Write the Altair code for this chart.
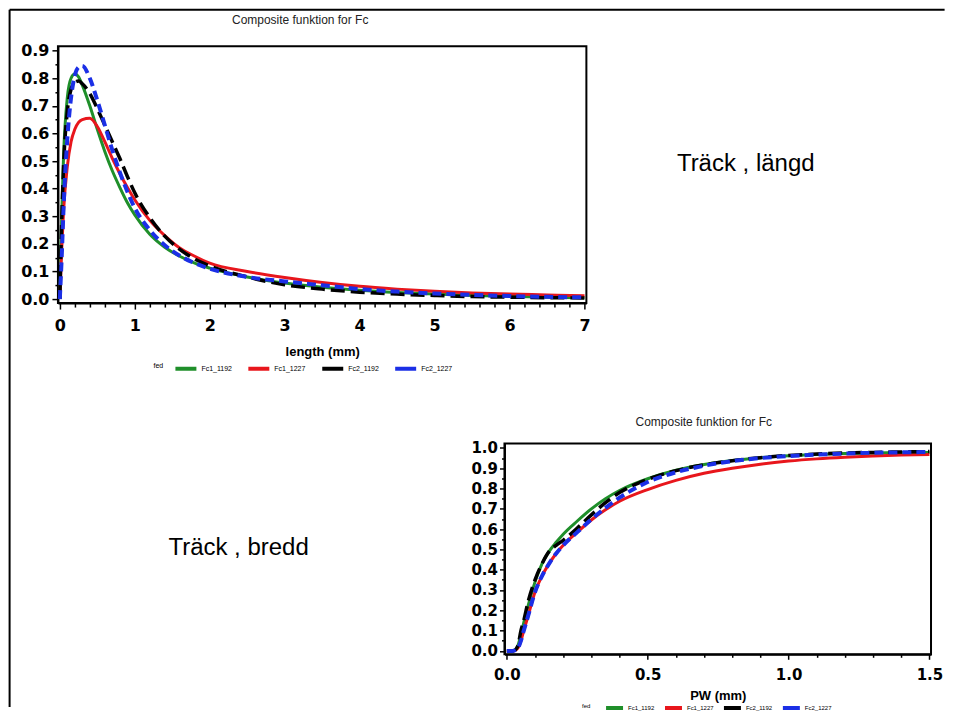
import altair as alt
import pandas as pd

SERIES = ["Fc1_1192", "Fc1_1227", "Fc2_1192", "Fc2_1227"]
COLORS = ["#1f8f2a", "#e8161c", "#000000", "#1b2fe6"]
DASHES = [[1, 0], [1, 0], [14, 6], [9, 5]]
WIDTHS = [3, 3, 3.5, 4]

# ---- top chart: length (mm) ----
len_x = [0, 0.025, 0.05, 0.1, 0.15, 0.2, 0.25, 0.3, 0.4, 0.5, 0.6, 0.7, 0.8, 0.9, 1.0,
         1.2, 1.4, 1.6, 1.8, 2.0, 2.5, 3, 3.5, 4, 4.5, 5, 5.5, 6, 6.5, 7]
len_fc1_1192 = [0, 0.30, 0.52, 0.73, 0.80, 0.815, 0.805, 0.775, 0.70, 0.615, 0.535, 0.465, 0.405, 0.35, 0.305,
                0.235, 0.188, 0.155, 0.13, 0.112, 0.08, 0.058, 0.043, 0.032, 0.024, 0.018, 0.013, 0.010, 0.007, 0.005]
len_fc1_1227 = [0, 0.18, 0.32, 0.48, 0.57, 0.615, 0.64, 0.65, 0.655, 0.625, 0.57, 0.51, 0.455, 0.405, 0.36,
                0.285, 0.23, 0.185, 0.155, 0.13, 0.10, 0.078, 0.06, 0.046, 0.036, 0.028, 0.022, 0.018, 0.015, 0.012]
len_fc2_1192 = [0, 0.28, 0.48, 0.68, 0.76, 0.785, 0.79, 0.78, 0.745, 0.69, 0.63, 0.57, 0.51, 0.445, 0.385,
                0.295, 0.228, 0.18, 0.145, 0.12, 0.08, 0.052, 0.036, 0.025, 0.018, 0.013, 0.009, 0.007, 0.005, 0.004]
len_fc2_1227 = [0, 0.15, 0.33, 0.58, 0.73, 0.81, 0.84, 0.845, 0.80, 0.72, 0.63, 0.54, 0.46, 0.39, 0.33,
                0.25, 0.195, 0.157, 0.13, 0.11, 0.08, 0.064, 0.05, 0.036, 0.027, 0.02, 0.015, 0.011, 0.008, 0.006]

# ---- bottom chart: PW (mm) ----
pw_x = [0, 0.02, 0.03, 0.04, 0.05, 0.06, 0.075, 0.1, 0.125, 0.15, 0.175, 0.2, 0.25, 0.3, 0.35, 0.4,
        0.5, 0.6, 0.7, 0.8, 0.9, 1.0, 1.1, 1.2, 1.3, 1.4, 1.5]
pw_fc1_1192 = [0, 0, 0.005, 0.03, 0.08, 0.14, 0.22, 0.34, 0.43, 0.49, 0.535, 0.575, 0.64, 0.70, 0.75, 0.79,
               0.848, 0.89, 0.918, 0.938, 0.952, 0.962, 0.968, 0.972, 0.975, 0.977, 0.978]
pw_fc1_1227 = [0, 0, 0.003, 0.015, 0.05, 0.10, 0.17, 0.29, 0.37, 0.43, 0.48, 0.52, 0.585, 0.645, 0.695, 0.737,
               0.795, 0.84, 0.875, 0.90, 0.92, 0.935, 0.946, 0.954, 0.96, 0.965, 0.968]
pw_fc2_1192 = [0, 0, 0.005, 0.03, 0.10, 0.15, 0.24, 0.35, 0.43, 0.49, 0.52, 0.545, 0.605, 0.67, 0.73, 0.78,
               0.845, 0.888, 0.917, 0.937, 0.952, 0.963, 0.970, 0.975, 0.978, 0.98, 0.982]
pw_fc2_1227 = [0, 0, 0.003, 0.015, 0.05, 0.10, 0.17, 0.29, 0.37, 0.43, 0.48, 0.52, 0.585, 0.648, 0.705, 0.755,
               0.832, 0.88, 0.912, 0.935, 0.95, 0.96, 0.967, 0.972, 0.976, 0.978, 0.98]

# tick values (major + minor)
top_x_ticks = [round(i * 0.2, 1) for i in range(36)]
top_y_ticks = [round(i * 0.05, 2) for i in range(19)]
bot_x_ticks = [round(i * 0.1, 1) for i in range(16)]
bot_y_ticks = [round(i * 0.05, 2) for i in range(21)]

TITLE_TEXT = "Composite funktion for Fc"
LABEL_LEN = "Träck , längd"
LABEL_PW = "Träck , bredd"

LABEL_FONT = "DejaVu Sans"
TEXT_FONT = "Liberation Sans"


def long_df(xname, xs, ys_list):
    rows = []
    for s, ys in zip(SERIES, ys_list):
        for x, y in zip(xs, ys):
            rows.append({xname: x, "value": y, "fed": s})
    return pd.DataFrame(rows)


len_df = long_df("length", len_x, [len_fc1_1192, len_fc1_1227, len_fc2_1192, len_fc2_1227])
pw_df = long_df("PW", pw_x, [pw_fc1_1192, pw_fc1_1227, pw_fc2_1192, pw_fc2_1227])


def make_axis(values, major_test, fmt, label_size, tick_major, tick_minor, label_pad,
              title=None, title_pad=0, title_size=13):
    kw = dict(
        values=values,
        labelExpr=f"({major_test}) ? format(datum.value, '{fmt}') : ''",
        tickSize={"condition": {"test": major_test, "value": tick_major}, "value": tick_minor},
        labelFont=LABEL_FONT, labelFontSize=label_size, labelFontWeight="bold", labelColor="#000",
        labelPadding=label_pad, labelFlush=False, labelOverlap=False,
        domainColor="#000", domainWidth=2, tickColor="#000", tickWidth=1.5, grid=False,
    )
    if title:
        kw.update(title=title, titleFont=TEXT_FONT, titleFontSize=title_size, titleFontWeight="bold",
                  titleColor="#000", titlePadding=title_pad)
    else:
        kw["title"] = None
    return alt.Axis(**kw)


def make_legend(x, y, size, sym_len, col_pad, title_pad):
    return alt.Legend(
        orient="none", legendX=x, legendY=y, direction="horizontal", title="fed",
        titleOrient="left", titleAnchor="middle", titleBaseline="middle",
        titleFont=TEXT_FONT, titleFontSize=size, titleFontWeight="normal",
        titleColor="#000", titlePadding=title_pad,
        labelFont=TEXT_FONT, labelFontSize=size, labelColor="#000",
        symbolType="stroke", symbolSize=sym_len * sym_len, symbolStrokeWidth=4,
        symbolDash=[1, 0], symbolDashOffset=0,
        labelOffset=3, columnPadding=col_pad, padding=0,
    )


def curve_layers(df, xenc, yenc, legend):
    """Solid series carry the colour legend; dashed series are drawn on top."""
    solid = alt.Chart(df).transform_filter(
        alt.FieldOneOfPredicate(field="fed", oneOf=SERIES[:2])
    ).mark_line(interpolate="monotone", strokeWidth=WIDTHS[0]).encode(
        x=xenc, y=yenc,
        color=alt.Color("fed:N", scale=alt.Scale(domain=SERIES, range=COLORS), legend=legend),
        detail="fed:N",
    )
    layers = [solid]
    for i in (2, 3):
        layers.append(
            alt.Chart(df).transform_filter(alt.datum.fed == SERIES[i]).mark_line(
                interpolate="monotone", color=COLORS[i], strokeDash=DASHES[i], strokeWidth=WIDTHS[i]
            ).encode(x=xenc, y=yenc)
        )
    return layers


def title_params(dx, offset):
    return alt.TitleParams(TITLE_TEXT, frame="group", anchor="middle", dx=dx, offset=offset,
                           baseline="alphabetic", font=TEXT_FONT, fontSize=12, fontWeight="normal",
                           color="#222")


# ---------- top chart ----------
top_x = alt.X("length:Q", scale=alt.Scale(domain=[-0.025, 7.025], nice=False, zero=False),
              axis=make_axis(top_x_ticks, "datum.value % 1 === 0", ".0f", 16, 6, 4, 8,
                             title="length (mm)", title_pad=12))
top_y = alt.Y("value:Q", scale=alt.Scale(domain=[-0.0145, 0.9156], nice=False, zero=False),
              axis=make_axis(top_y_ticks, "round(datum.value * 100) % 10 === 0", ".1f", 16, 6, 3, 3))

label_top = alt.Chart(pd.DataFrame({"t": [LABEL_LEN]})).mark_text(
    font=TEXT_FONT, fontSize=24, align="left", baseline="alphabetic", color="#000"
).encode(text="t:N", x=alt.value(619.6), y=alt.value(124.5))

top = alt.layer(*curve_layers(len_df, top_x, top_y, make_legend(95.6, 310, 7, 21, 8.0, 10)),
                label_top).properties(
    width=529, height=257,
    title=title_params(-22, 7),
    view=alt.ViewBackground(stroke="#000", strokeWidth=2),
)

# ---------- bottom chart ----------
bot_x = alt.X("PW:Q", scale=alt.Scale(domain=[-0.0085, 1.5057], nice=False, zero=False),
              axis=make_axis(bot_x_ticks, "round(datum.value * 10) % 5 === 0", ".1f", 15, 5, 3, 8,
                             title="PW (mm)", title_pad=7))
bot_y = alt.Y("value:Q", scale=alt.Scale(domain=[-0.0167, 1.0217], nice=False, zero=False),
              axis=make_axis(bot_y_ticks, "round(datum.value * 100) % 10 === 0", ".1f", 15, 5, 3, 2))

bottom = alt.layer(*curve_layers(pw_df, bot_x, bot_y, make_legend(77.7, 254, 6, 17, 2, 13))).properties(
    width=427, height=211,
    title=title_params(-14, 3),
    view=alt.ViewBackground(stroke="#000", strokeWidth=2),
)

# ---------- left cell of the second row: label + page frame ----------
one = pd.DataFrame({"k": [0]})
border_h = alt.Chart(one).mark_rule(color="#000", strokeWidth=2).encode(
    x=alt.value(-48.4), x2=alt.value(887.6), y=alt.value(-434.3))
border_v = alt.Chart(one).mark_rule(color="#000", strokeWidth=2).encode(
    x=alt.value(-48.4), y=alt.value(-434.3), y2=alt.value(263.7))
label_pw = alt.Chart(pd.DataFrame({"t": [LABEL_PW]})).mark_text(
    font=TEXT_FONT, fontSize=24, align="left", baseline="alphabetic", color="#000"
).encode(text="t:N", x=alt.value(110.6), y=alt.value(111.5))

spacer = alt.layer(label_pw, border_h, border_v).properties(
    width=446.9, height=211, view=alt.ViewBackground(stroke="transparent", strokeWidth=0))

row2 = alt.hconcat(spacer, bottom, spacing=0, bounds="flush").resolve_scale(
    color="independent").resolve_legend(color="independent")

chart = alt.vconcat(top, row2, spacing=140.6, bounds="flush").resolve_scale(
    x="independent", y="independent", color="independent",
).resolve_legend(color="independent").properties(padding=0, background="white")

chart.save("out.html", embed_options={"renderer": "svg", "actions": False})
